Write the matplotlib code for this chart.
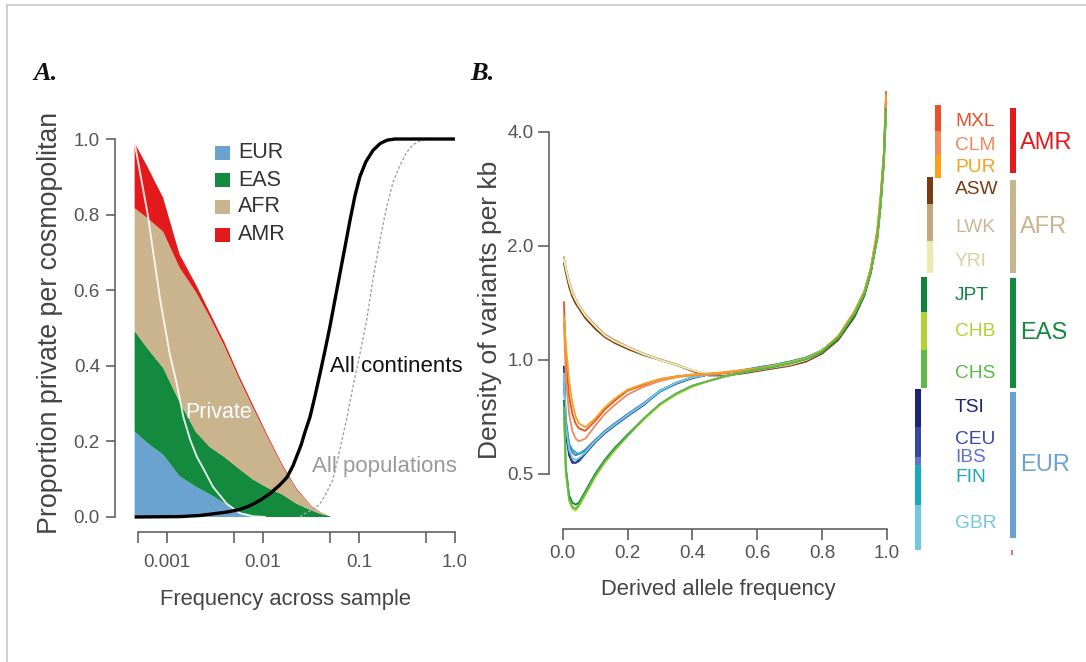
import numpy as np
import matplotlib
matplotlib.use("Agg")
import matplotlib.pyplot as plt
from matplotlib.patches import Rectangle
from matplotlib.lines import Line2D
from matplotlib.transforms import Bbox, TransformedBbox

# ---------------- data: panel A (private variants by continent) ----------------
freq_a = [0.00046, 0.00063, 0.00091, 0.00135, 0.002, 0.0028, 0.004, 0.0056,
          0.0079, 0.0112, 0.0158, 0.0224, 0.0316, 0.04, 0.05]
eur_a = [0.226, 0.195, 0.165, 0.108, 0.080, 0.060, 0.036, 0.013, 0.001,
         0, 0, 0, 0, 0, 0]
eas_a = [0.266, 0.250, 0.230, 0.197, 0.145, 0.125, 0.122, 0.115, 0.098,
         0.077, 0.060, 0.035, 0.018, 0.008, 0.002]
afr_a = [0.325, 0.345, 0.360, 0.355, 0.370, 0.343, 0.292, 0.239, 0.189,
         0.133, 0.076, 0.037, 0.012, 0.003, 0.0]
amr_a = [0.173, 0.135, 0.090, 0.035, 0.020, 0.012, 0.010, 0.008, 0.007,
         0.005, 0.004, 0.003, 0.001, 0.001, 0.0]

private_freq = [0.00046, 0.00063, 0.00085, 0.00107, 0.00126, 0.00148, 0.00174,
                0.00204, 0.00237, 0.00301, 0.00419, 0.00576, 0.00787, 0.0105]
private_val = [0.99, 0.80, 0.574, 0.43, 0.354, 0.265, 0.205, 0.16, 0.13,
               0.08, 0.035, 0.01, 0.002, 0.0]

cont_freq = [0.00046, 0.00136, 0.00221, 0.00419, 0.00576, 0.00732, 0.00931,
             0.01183, 0.0150, 0.01778, 0.0205, 0.0249, 0.0274, 0.0309, 0.0348,
             0.0393, 0.0442, 0.0499, 0.0562, 0.0634, 0.0715, 0.0806, 0.0908,
             0.102, 0.118, 0.140, 0.166, 0.196, 0.237, 1.0]
cont_val = [0.0, 0.001, 0.004, 0.013, 0.02, 0.03, 0.044, 0.062, 0.085, 0.105,
            0.135, 0.19, 0.225, 0.265, 0.32, 0.38, 0.44, 0.505, 0.575, 0.645,
            0.715, 0.785, 0.85, 0.9, 0.94, 0.97, 0.988, 0.997, 1.0, 1.0]

pop_freq = [0.0243, 0.0285, 0.0332, 0.0393, 0.0461, 0.0536, 0.0634, 0.0745,
            0.0866, 0.102, 0.120, 0.140, 0.166, 0.194, 0.226, 0.267, 0.314,
            0.365, 0.432, 0.549, 1.0]
pop_val = [0.0, 0.012, 0.02, 0.035, 0.065, 0.1, 0.18, 0.26, 0.345, 0.43, 0.52,
           0.63, 0.735, 0.82, 0.885, 0.93, 0.965, 0.985, 0.995, 1.0, 1.0]

cont_names = ["EUR", "EAS", "AFR", "AMR"]
cont_colors = ["#6BA3D0", "#138A3E", "#C9B48D", "#E31A1C"]

xticks_a = [0.0005, 0.001, 0.005, 0.01, 0.05, 0.1, 0.5, 1.0]
xticklabels_a = ["", "0.001", "", "0.01", "", "0.1", "", "1.0"]
yticks_a = [0.0, 0.2, 0.4, 0.6, 0.8, 1.0]

# ---------------- data: panel B (derived allele frequency spectra) -------------
daf = [0.004, 0.01, 0.02, 0.03, 0.04, 0.05, 0.07, 0.1, 0.13, 0.16, 0.2, 0.25,
       0.3, 0.35, 0.4, 0.45, 0.5, 0.55, 0.6, 0.65, 0.7, 0.75, 0.8, 0.85, 0.9,
       0.93, 0.95, 0.97, 0.98, 0.99, 0.997]

asw = [1.80, 1.70, 1.56, 1.47, 1.41, 1.37, 1.29, 1.21, 1.15, 1.11, 1.07, 1.03,
       1.0, 0.97, 0.935, 0.91, 0.91, 0.92, 0.935, 0.95, 0.965, 0.99, 1.04,
       1.13, 1.3, 1.48, 1.7, 2.1, 2.55, 3.3, 4.7]
lwk = [1.87, 1.76, 1.62, 1.52, 1.45, 1.40, 1.32, 1.24, 1.17, 1.13, 1.085, 1.04,
       1.005, 0.975, 0.94, 0.915, 0.915, 0.925, 0.94, 0.955, 0.97, 1.0, 1.05,
       1.14, 1.32, 1.5, 1.72, 2.15, 2.6, 3.4, 4.9]
yri = [1.84, 1.74, 1.60, 1.50, 1.44, 1.39, 1.31, 1.23, 1.16, 1.12, 1.08, 1.035,
       1.0, 0.97, 0.94, 0.915, 0.92, 0.93, 0.945, 0.96, 0.975, 1.0, 1.05,
       1.15, 1.33, 1.5, 1.73, 2.15, 2.6, 3.4, 4.8]
mxl = [1.42, 1.0, 0.80, 0.72, 0.68, 0.66, 0.65, 0.69, 0.74, 0.78, 0.83, 0.86,
       0.89, 0.905, 0.915, 0.92, 0.925, 0.935, 0.95, 0.965, 0.985, 1.01, 1.06,
       1.15, 1.34, 1.52, 1.75, 2.2, 2.7, 3.5, 5.1]
clm = [1.25, 0.90, 0.72, 0.65, 0.62, 0.61, 0.62, 0.67, 0.72, 0.76, 0.81, 0.85,
       0.88, 0.90, 0.91, 0.915, 0.925, 0.935, 0.95, 0.965, 0.98, 1.01, 1.06,
       1.15, 1.33, 1.5, 1.74, 2.15, 2.65, 3.45, 5.0]
pur = [1.30, 1.10, 0.88, 0.77, 0.71, 0.68, 0.665, 0.70, 0.75, 0.79, 0.835,
       0.865, 0.89, 0.905, 0.915, 0.92, 0.93, 0.94, 0.95, 0.965, 0.985, 1.01,
       1.06, 1.16, 1.35, 1.52, 1.75, 2.2, 2.7, 3.5, 5.0]
tsi = [0.96, 0.64, 0.56, 0.535, 0.535, 0.545, 0.57, 0.61, 0.645, 0.675, 0.715,
       0.765, 0.83, 0.87, 0.90, 0.915, 0.925, 0.935, 0.95, 0.965, 0.985, 1.01,
       1.06, 1.15, 1.33, 1.5, 1.72, 2.15, 2.6, 3.4, 4.8]
ceu = [0.94, 0.66, 0.57, 0.54, 0.535, 0.54, 0.565, 0.605, 0.64, 0.67, 0.71,
       0.76, 0.825, 0.865, 0.895, 0.915, 0.925, 0.935, 0.955, 0.97, 0.99, 1.015,
       1.06, 1.15, 1.33, 1.5, 1.72, 2.15, 2.6, 3.4, 4.8]
ibs = [0.92, 0.70, 0.60, 0.57, 0.56, 0.565, 0.58, 0.615, 0.65, 0.68, 0.72, 0.77,
       0.83, 0.87, 0.90, 0.915, 0.925, 0.935, 0.95, 0.965, 0.985, 1.01, 1.06,
       1.15, 1.33, 1.5, 1.72, 2.15, 2.6, 3.4, 4.7]
fin = [0.90, 0.68, 0.60, 0.58, 0.57, 0.565, 0.575, 0.61, 0.645, 0.675, 0.715,
       0.765, 0.825, 0.87, 0.90, 0.915, 0.925, 0.94, 0.955, 0.97, 0.99, 1.015,
       1.06, 1.15, 1.33, 1.5, 1.72, 2.15, 2.6, 3.4, 4.7]
gbr = [0.92, 0.67, 0.58, 0.55, 0.545, 0.55, 0.57, 0.61, 0.645, 0.675, 0.715,
       0.765, 0.83, 0.87, 0.90, 0.915, 0.925, 0.935, 0.95, 0.965, 0.985, 1.01,
       1.06, 1.15, 1.33, 1.5, 1.72, 2.15, 2.6, 3.4, 4.7]
jpt = [0.78, 0.52, 0.44, 0.42, 0.415, 0.42, 0.45, 0.50, 0.545, 0.585, 0.635,
       0.70, 0.765, 0.815, 0.855, 0.88, 0.905, 0.925, 0.945, 0.96, 0.98, 1.005,
       1.05, 1.14, 1.31, 1.48, 1.7, 2.1, 2.55, 3.3, 4.6]
chb = [0.72, 0.50, 0.425, 0.405, 0.40, 0.41, 0.44, 0.49, 0.535, 0.575, 0.63,
       0.695, 0.76, 0.81, 0.85, 0.88, 0.905, 0.925, 0.945, 0.965, 0.985, 1.01,
       1.06, 1.15, 1.33, 1.5, 1.72, 2.1, 2.55, 3.3, 4.5]
chs = [0.75, 0.51, 0.43, 0.41, 0.405, 0.415, 0.445, 0.495, 0.54, 0.58, 0.63,
       0.70, 0.765, 0.815, 0.855, 0.88, 0.905, 0.925, 0.945, 0.96, 0.98, 1.005,
       1.055, 1.15, 1.33, 1.5, 1.72, 2.1, 2.55, 3.3, 4.6]

sub_names = ["MXL", "CLM", "PUR", "ASW", "LWK", "YRI", "JPT", "CHB", "CHS",
             "TSI", "CEU", "IBS", "FIN", "GBR"]
sub_colors = ["#E8502A", "#F08A5A", "#F7A21B", "#7A3B12", "#C4A67E", "#EDEAB0",
              "#10833C", "#B2D235", "#5CBA47", "#1C2475", "#3848A0", "#6272C8",
              "#1AA9BF", "#72C8E0"]
sub_label_colors = ["#E8502A", "#F08A5A", "#F7A21B", "#7A3B12", "#C8B89A",
                    "#D6D29E", "#10833C", "#B2D235", "#5CBA47", "#1C2475",
                    "#3848A0", "#6272C8", "#1AA9BF", "#72C8E0"]
sub_series = [mxl, clm, pur, asw, lwk, yri, jpt, chb, chs, tsi, ceu, ibs, fin, gbr]

group_names = ["AMR", "AFR", "EAS", "EUR"]
group_colors = ["#E31A1C", "#C9B48D", "#138A3E", "#6BA3D0"]

yticks_b = [0.5, 1.0, 2.0, 4.0]
yticklabels_b = ["0.5", "1.0", "2.0", "4.0"]
xticks_b = [0.0, 0.2, 0.4, 0.6, 0.8, 1.0]

# ---------------- figure ----------------
W, H = 1086, 662
plt.rcParams["font.family"] = ["Liberation Sans", "DejaVu Sans"]
fig = plt.figure(figsize=(W / 100, H / 100), dpi=100)


def px_axes(left, top, right, bottom):
    return fig.add_axes([left / W, 1 - bottom / H, (right - left) / W,
                         (bottom - top) / H])


AXIS_GREY = "#555555"
TEXT_GREY = "#444444"
TICK_SIZE = 13.6

# ---------------- panel A ----------------
axA = px_axes(115, 124, 468, 532)
axA.set_xscale("log")
axA.set_xlim(10 ** (-340 / 96), 10 ** (13 / 96))
axA.set_ylim(-0.0397, 1.0397)

axA.stackplot(freq_a, eur_a, eas_a, afr_a, amr_a, colors=cont_colors,
              linewidth=0)
axA.plot(private_freq, private_val, color="white", lw=1.4, alpha=0.85)
axA.plot(pop_freq, pop_val, color="#9AA3B0", lw=1.0, ls=(0, (2, 1.5)))
axA.plot(cont_freq, cont_val, color="black", lw=2.4, solid_capstyle="butt",
         solid_joinstyle="round")

axA.text(10 ** ((330 - 455) / 96), (517 - 367) / 378, "All continents",
         fontsize=16, color="#111111", va="center", ha="left")
axA.text(10 ** ((312 - 455) / 96), (517 - 467) / 378, "All populations",
         fontsize=16, color="#9A9A9A", va="center", ha="left")
axA.text(10 ** ((185 - 455) / 96), (517 - 413) / 378, "Private",
         fontsize=15.5, color="white", va="center", ha="left")

for sp in ["top", "right"]:
    axA.spines[sp].set_visible(False)
for sp in ["left", "bottom"]:
    axA.spines[sp].set_color(AXIS_GREY)
    axA.spines[sp].set_linewidth(1.1)
axA.spines["left"].set_bounds(0, 1)
axA.spines["bottom"].set_bounds(0.0005, 1.0)
axA.set_xticks(xticks_a)
axA.set_xticklabels(xticklabels_a)
axA.minorticks_off()
axA.set_yticks(yticks_a)
axA.set_yticklabels([f"{v:.1f}" for v in yticks_a])
axA.tick_params(axis="x", length=8, width=1.1, color=AXIS_GREY, pad=7.5,
                labelsize=TICK_SIZE, labelcolor="#555555")
axA.tick_params(axis="y", length=6.5, width=1.1, color=AXIS_GREY, pad=4.3,
                labelsize=TICK_SIZE, labelcolor="#555555")
lbl = axA.xaxis.get_major_ticks()[-1].label1
lbl.set_clip_box(TransformedBbox(Bbox([[0, 0], [466 / W, 1]]), fig.transFigure))
lbl.set_clip_on(True)

axA.set_xlabel("Frequency across sample", fontsize=15.8, color=TEXT_GREY,
               va="center")
axA.xaxis.set_label_coords(285 / W, 1 - 600 / H, transform=fig.transFigure)
axA.set_ylabel("Proportion private per cosmopolitan", fontsize=19.3,
               color=TEXT_GREY, va="center")
axA.yaxis.set_label_coords(50 / W, 1 - 323 / H, transform=fig.transFigure)

# ---------------- panel B ----------------
axB = px_axes(549, 75, 900, 529)
axB.set_yscale("log", base=2)
axB.set_xlim(-0.042, 1.04)
axB.set_ylim(2 ** (-169 / 114), 2 ** (285 / 114))

draw_order = [3, 4, 5, 9, 10, 11, 12, 13, 0, 1, 2, 6, 7, 8]
for i in draw_order:
    axB.plot(daf, sub_series[i], color=sub_colors[i], lw=1.3)

for sp in ["top", "right"]:
    axB.spines[sp].set_visible(False)
for sp in ["left", "bottom"]:
    axB.spines[sp].set_color(AXIS_GREY)
    axB.spines[sp].set_linewidth(1.1)
axB.spines["left"].set_bounds(0.5, 4.0)
axB.spines["bottom"].set_bounds(0.0, 1.0)
axB.set_yticks(yticks_b)
axB.set_yticklabels(yticklabels_b)
axB.minorticks_off()
axB.set_xticks(xticks_b)
axB.set_xticklabels([f"{v:.1f}" for v in xticks_b])
axB.tick_params(axis="x", length=8, width=1.1, color=AXIS_GREY, pad=3.3,
                labelsize=TICK_SIZE, labelcolor="#555555")
axB.tick_params(axis="y", length=8, width=1.1, color=AXIS_GREY, pad=3,
                labelsize=TICK_SIZE, labelcolor="#555555")
axB.set_xlabel("Derived allele frequency", fontsize=15.8, color=TEXT_GREY,
               va="center")
axB.xaxis.set_label_coords(718 / W, 1 - 590 / H, transform=fig.transFigure)
axB.set_ylabel("Density of variants per kb", fontsize=19.0, color=TEXT_GREY,
               va="center")
axB.yaxis.set_label_coords(490 / W, 1 - 310 / H, transform=fig.transFigure)

# ---------------- overlay in pixel coordinates ----------------
ov = fig.add_axes([0, 0, 1, 1])
ov.set_xlim(0, W)
ov.set_ylim(H, 0)
ov.axis("off")
ov.patch.set_alpha(0)

# frame lines
ov.add_line(Line2D([7, W], [5, 5], color="#C8C8C8", lw=1.2))
ov.add_line(Line2D([7, 7], [5, H], color="#C8C8C8", lw=1.2))

# panel letters
for letter, lx in [("A.", 33), ("B.", 470)]:
    ov.text(lx, 73, letter, fontsize=19, fontweight="bold", fontstyle="italic",
            family=["Liberation Serif", "DejaVu Serif"], va="center",
            ha="left", color="#111111")

# panel A legend
legend_rows = [153, 180, 207, 235]
for name, col, yc in zip(cont_names, cont_colors, legend_rows):
    ov.add_patch(Rectangle((215, yc - 7), 15, 14, color=col, lw=0))
    ov.text(238, yc, name, fontsize=15.5, color="#333333", va="center",
            ha="left")

# population colour key
sub_bar_x = [935, 935, 935, 927, 927, 927, 921, 921, 921, 915, 915, 915, 915, 915]
sub_bar_y = [(105, 131), (131, 155), (155, 178), (177, 204), (204, 241),
             (241, 273), (277, 312), (312, 350), (350, 388), (389, 427),
             (427, 457), (457, 465), (465, 505), (505, 550)]
sub_label_y = [122, 145, 168, 190, 227, 262, 295, 332, 373, 408, 440, 458,
               478, 523]
for name, col, lcol, bx, (y0, y1), ly in zip(sub_names, sub_colors,
                                             sub_label_colors, sub_bar_x,
                                             sub_bar_y, sub_label_y):
    ov.add_patch(Rectangle((bx, y0), 6, y1 - y0, color=col, lw=0))
    ov.text(955, ly, name, fontsize=13.8, color=lcol, va="center", ha="left")

group_bar_y = [(108, 173), (180, 273), (278, 388), (392, 538)]
group_label_y = [143, 227, 333, 465]
for name, col, (y0, y1), ly in zip(group_names, group_colors, group_bar_y,
                                   group_label_y):
    ov.add_patch(Rectangle((1010, y0), 6, y1 - y0, color=col, lw=0))
    ov.text(1020, ly, name, fontsize=17, color=col, va="center", ha="left")
ov.add_patch(Rectangle((1011, 550), 2, 5, color="#E8776A", lw=0))

fig.savefig("out.png", dpi=100)
